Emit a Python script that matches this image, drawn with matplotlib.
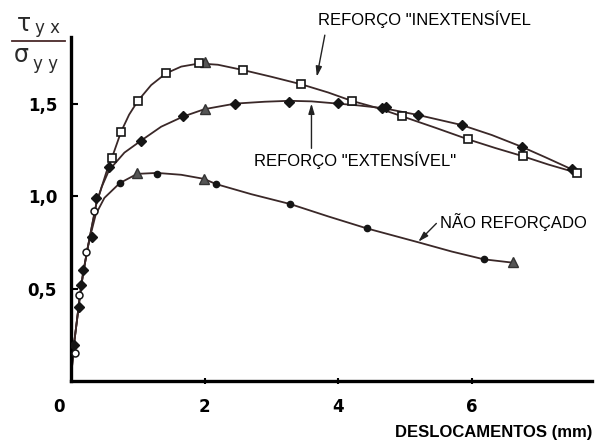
import matplotlib
matplotlib.use("Agg")
import matplotlib.pyplot as plt
import matplotlib.transforms as mtransforms

# ---- data (displacement in mm, normalised shear stress) ----
inext_curve_x = [0, 0.02, 0.045, 0.09, 0.13, 0.18, 0.25, 0.32, 0.38, 0.46, 0.53, 0.61, 0.75, 0.87,
                 1.0, 1.2, 1.42, 1.65, 1.92, 2.2, 2.58, 3.0, 3.45, 3.85, 4.2, 4.6, 4.95, 5.45,
                 5.95, 6.35, 6.76, 7.15, 7.57]
inext_curve_y = [0, 0.10, 0.20, 0.33, 0.45, 0.58, 0.72, 0.85, 0.96, 1.05, 1.13, 1.204, 1.348, 1.44,
                 1.514, 1.60, 1.663, 1.70, 1.717, 1.71, 1.681, 1.645, 1.604, 1.56, 1.515, 1.475, 1.432, 1.37,
                 1.306, 1.26, 1.216, 1.17, 1.126]
inext_sq_x = [0.61, 0.75, 1.0, 1.42, 1.92, 2.58, 3.45, 4.2, 4.95, 5.95, 6.76, 7.57]
inext_sq_y = [1.204, 1.348, 1.514, 1.663, 1.717, 1.681, 1.604, 1.515, 1.432, 1.306, 1.216, 1.126]

ext_curve_x = [0, 0.02, 0.045, 0.09, 0.13, 0.18, 0.25, 0.32, 0.38, 0.46, 0.57, 0.8, 1.05, 1.35,
               1.68, 2.0, 2.46, 2.9, 3.27, 3.6, 3.99, 4.3, 4.68, 5.2, 5.85, 6.3, 6.75, 7.1, 7.5]
ext_curve_y = [0, 0.10, 0.20, 0.33, 0.45, 0.58, 0.72, 0.85, 0.96, 1.05, 1.14, 1.235, 1.30, 1.375,
               1.43, 1.47, 1.50, 1.51, 1.515, 1.512, 1.50, 1.49, 1.475, 1.438, 1.384, 1.33, 1.266, 1.21, 1.144]
ext_dm_x = [0.045, 0.12, 0.145, 0.18, 0.31, 0.37, 0.57, 1.05, 1.68, 2.46, 3.27, 3.99, 4.65, 4.72,
            5.2, 5.85, 6.75, 7.5]
ext_dm_y = [0.195, 0.40, 0.52, 0.60, 0.78, 0.99, 1.155, 1.30, 1.432, 1.50, 1.51, 1.501, 1.474, 1.479,
            1.438, 1.384, 1.266, 1.144]

nr_curve_x = [0, 0.02, 0.045, 0.09, 0.13, 0.18, 0.25, 0.30, 0.37, 0.5, 0.73, 0.99, 1.29, 1.65,
              1.99, 2.17, 2.7, 3.28, 3.85, 4.43, 5.2, 5.7, 6.18, 6.61]
nr_curve_y = [0, 0.10, 0.20, 0.33, 0.45, 0.58, 0.72, 0.80, 0.90, 0.99, 1.07, 1.12, 1.125, 1.115,
              1.093, 1.065, 1.01, 0.957, 0.89, 0.825, 0.75, 0.70, 0.658, 0.64]
nr_dot_x = [0.73, 1.29, 2.17, 3.28, 4.43, 6.18]
nr_dot_y = [1.07, 1.117, 1.063, 0.957, 0.825, 0.658]

tri_x = [2.0, 2.0, 0.99, 1.99, 6.61]
tri_y = [1.724, 1.47, 1.126, 1.093, 0.645]

open_x = [0.06, 0.12, 0.22, 0.35]
open_y = [0.15, 0.465, 0.70, 0.92]

x_ticks = [0, 2, 4, 6]
x_ticklabels = ["0", "2", "4", "6"]
y_ticks = [0.5, 1.0, 1.5]
y_ticklabels = ["0,5", "1,0", "1,5"]

LINE = "#3a2828"
INK = "#151515"

fig = plt.figure(figsize=(5.96, 4.43), dpi=100)
ax = fig.add_axes([71 / 596, 62 / 443, 521 / 596, 344 / 443])
ax.set_xlim(0, 7.8)
ax.set_ylim(0, 1.86)

for cx, cy in [(inext_curve_x, inext_curve_y), (ext_curve_x, ext_curve_y), (nr_curve_x, nr_curve_y)]:
    ax.plot(cx, cy, color=LINE, lw=1.3, zorder=2, solid_capstyle="round")

ax.plot(ext_dm_x, ext_dm_y, ls="none", marker="D", ms=5, mfc=INK, mec=INK, zorder=3)
ax.plot(nr_dot_x, nr_dot_y, ls="none", marker="o", ms=4.5, mfc=INK, mec=INK, zorder=3)
ax.plot(tri_x, tri_y, ls="none", marker="^", ms=6.5, mfc="#555555", mec="#333333", zorder=3)
ax.plot(inext_sq_x, inext_sq_y, ls="none", marker="s", ms=5.5, mfc="white", mec=INK, mew=1.2, zorder=4)
ax.plot(open_x, open_y, ls="none", marker="o", ms=5, mfc="white", mec=INK, mew=1.1, zorder=4)

# axes frame
for side in ["top", "right"]:
    ax.spines[side].set_visible(False)
for side in ["left", "bottom"]:
    ax.spines[side].set_linewidth(2.4)
    ax.spines[side].set_color("black")

ax.set_xticks(x_ticks)
ax.set_xticklabels(x_ticklabels, fontfamily="DejaVu Sans", fontweight="bold", fontsize=12)
ax.set_yticks(y_ticks)
ax.set_yticklabels(y_ticklabels, fontfamily="DejaVu Sans", fontweight="bold", fontsize=12)
ax.tick_params(axis="x", direction="inout", length=5, width=1.5, pad=10)
ax.tick_params(axis="y", direction="in", length=5, width=1.5, pad=10)
ax.xaxis.get_major_ticks()[0].tick1line.set_visible(False)
shift = mtransforms.ScaledTranslation(-12 / 100, 0, fig.dpi_scale_trans)
lbl0 = ax.get_xticklabels()[0]
lbl0.set_transform(lbl0.get_transform() + shift)

ax.text(7.8, -0.28, "DESLOCAMENTOS (mm)", ha="right", va="center",
        fontfamily="Liberation Sans", fontweight="bold", fontsize=12, clip_on=False)

# curve labels with pointers
lab = dict(fontfamily="Liberation Sans", fontsize=12, color="black", va="center")
ax.text(3.70, 1.957, 'REFORÇO "INEXTENSÍVEL', clip_on=False, **lab)
ax.text(2.74, 1.195, 'REFORÇO "EXTENSÍVEL"', **lab)
ax.text(5.52, 0.861, 'NÃO REFORÇADO', **lab)

arrow = dict(arrowstyle="-|>,head_length=0.6,head_width=0.18", color="#222222", lw=1.0,
             shrinkA=0, shrinkB=0)
ax.annotate("", xy=(3.68, 1.645), xytext=(3.80, 1.87), arrowprops=arrow, annotation_clip=False)
ax.annotate("", xy=(3.60, 1.50), xytext=(3.60, 1.258), arrowprops=arrow)
ax.annotate("", xy=(5.20, 0.753), xytext=(5.47, 0.852), arrowprops=arrow)

# y-axis quantity written as a fraction
H = 443
def fy(py):
    return 1 - py / H
fig.text(17 / 596, fy(24), "τ", fontsize=17, color="#2a2a2a", fontfamily="DejaVu Sans", va="center")
fig.text(35 / 596, fy(28), "y x", fontsize=12, color="#2a2a2a", fontfamily="DejaVu Sans", va="center")
fig.add_artist(plt.Line2D([12 / 596, 65 / 596], [fy(41), fy(41)], color="#4a2a2a", lw=1.3,
                          transform=fig.transFigure))
fig.text(14 / 596, fy(55), "σ", fontsize=17, color="#2a2a2a", fontfamily="DejaVu Sans", va="center")
fig.text(33 / 596, fy(64), "y y", fontsize=12, color="#2a2a2a", fontfamily="DejaVu Sans", va="center")

fig.savefig("out.png", dpi=100)
